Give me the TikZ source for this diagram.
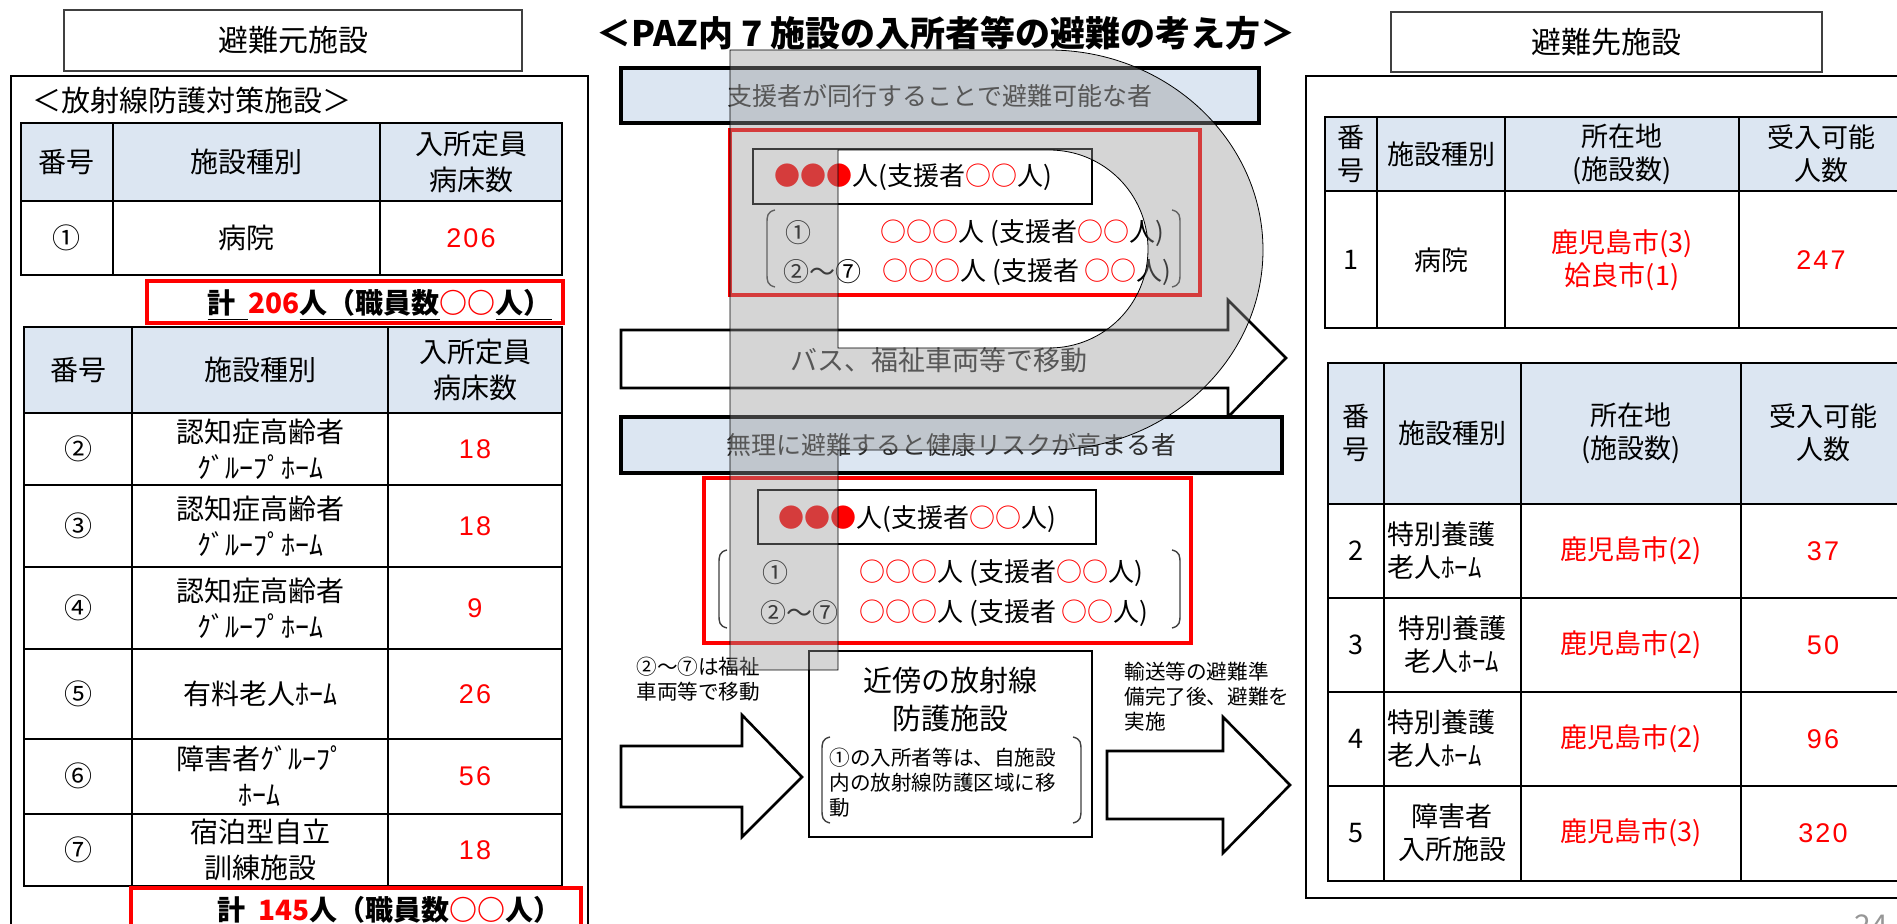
\documentclass[tikz,border=0pt]{standalone}
\usepackage{fontspec}
\setmainfont{Noto Sans CJK JP}
\newfontfamily\numfont{Liberation Sans}[LetterSpace=8]
\definecolor{bandblue}{RGB}{220, 230, 242}
\definecolor{textgray}{RGB}{45, 45, 45}
\definecolor{shadegray}{RGB}{150, 150, 150}
\definecolor{pagegray}{RGB}{150, 150, 150}
\tikzset{
    cell/.style={
        font=\fontsize{14}{18}\selectfont,
        align=center,
        inner sep=0pt
    },
    cell red/.style={
        cell,
        text=red,
        font=\fontsize{13.5}{18}\numfont
    },
    dcell/.style={
        font=\fontsize{13.5}{16.5}\selectfont,
        align=center,
        inner sep=0pt
    }
}

\begin{document}
\begin{tikzpicture}[x=0.5pt, y=-0.5pt]

    \tikzstyle{headbox} = [
        draw=black!75,
        line width=1.2pt,
        font=\fontsize{15}{18}\selectfont
    ]
    \tikzstyle{panel} = [draw=black, line width=0.8pt]
    \tikzstyle{grid thick} = [draw=black, line width=1.2pt]
    \tikzstyle{grid thin} = [draw=black, line width=0.6pt]
    \tikzstyle{bandbox} = [
        fill=bandblue,
        draw=black,
        line width=2pt,
        text=textgray,
        font=\fontsize{12.5}{15}\selectfont
    ]
    \tikzstyle{redframe} = [draw=red, line width=1.8pt]
    \tikzstyle{innerbox} = [draw=black, line width=0.6pt]
    \tikzstyle{blockarrow} = [draw=black, fill=white, line width=1.3pt, line join=miter]
    \tikzstyle{paren} = [draw=black!75, line width=0.7pt]
    \tikzstyle{rowtext} = [anchor=west, inner sep=0pt, font=\fontsize{13}{15}\selectfont]
    \tikzstyle{total} = [anchor=east, inner sep=0pt, font=\fontsize{14}{17}\bfseries\selectfont]
    \tikzstyle{note} = [anchor=north west, align=left, inner sep=0pt, font=\fontsize{10.3}{12.4}\selectfont]
    \tikzstyle{pshade} = [draw=black, line width=0.4pt, fill=shadegray, fill opacity=0.4, even odd rule]

    \useasboundingbox (0,0) rectangle (1897,924);
    \clip (0,0) rectangle (1897,924);
    \fill[white] (0,0) rectangle (1897,924);

    % Titre
    \node[font=\fontsize{17.5}{20}\bfseries\selectfont] (titre) at (946,33) {＜PAZ内 7 施設の入所者等の避難の考え方＞};

    % Côté gauche
    \node[headbox, minimum width=229pt, minimum height=30.5pt] (src) at (293,40.5) {避難元施設};
    \draw[panel] (11,76) rectangle (588,960);
    \node[anchor=west, inner sep=0pt, font=\fontsize{14.5}{17}\selectfont] (srcsub) at (32,100) {＜放射線防護対策施設＞};

    \fill[bandblue] (21,123) rectangle (562,201);
    \draw[grid thin] (113,123) -- (113,275) (380,123) -- (380,275);
    \draw[grid thick] (21,123) rectangle (562,275) (21,201) -- (562,201);
    \node[cell] (a0) at (67,162) {番号};
    \node[cell] (a1) at (246,162) {施設種別};
    \node[cell] (a2) at (471,162) {入所定員\\病床数};
    \node[cell] (a3) at (67,238) {①};
    \node[cell] (a4) at (246,238) {病院};
    \node[cell red] (a5) at (471,238) {206};

    \draw[redframe] (147,281) rectangle (563,323);
    \node[total] (tot1) at (552,305) {\underline{計\ \ }\textcolor{red}{206}\underline{人（職員数}\textcolor{red}{○○}\underline{人）}};

    \fill[bandblue] (24,327) rectangle (562,413);
    \draw[grid thin] (132,327) -- (132,886) (388,327) -- (388,886);
    \draw[grid thick] (24,327) rectangle (562,886);
    \foreach \y in {413,485,567,649,739,814}
        \draw[grid thick] (24,\y) -- (562,\y);
    \node[cell] (b0) at (78,370) {番号};
    \node[cell] (k0) at (260,370) {施設種別};
    \node[cell] (c0) at (475,370) {入所定員\\病床数};
    \foreach \no/\y/\kind/\num [count=\i] in {
        ②/449/{認知症高齢者\\ｸﾞﾙｰﾌﾟﾎｰﾑ}/18,
        ③/526/{認知症高齢者\\ｸﾞﾙｰﾌﾟﾎｰﾑ}/18,
        ④/608/{認知症高齢者\\ｸﾞﾙｰﾌﾟﾎｰﾑ}/9,
        ⑤/694/{有料老人ﾎｰﾑ}/26,
        ⑥/776/{障害者ｸﾞﾙｰﾌﾟ\\ﾎｰﾑ}/56,
        ⑦/850/{宿泊型自立\\訓練施設}/18}
    {
        \node[cell] (b\i) at (78,\y) {\no};
        \node[cell] (k\i) at (260,\y) {\kind};
        \node[cell red] (c\i) at (475,\y) {\num};
    }

    \draw[redframe] (131,888) rectangle (581,960);
    \node[total] (tot2) at (562,912) {\underline{計\ \ }\textcolor{red}{145}\underline{人（職員数}\textcolor{red}{○○}\underline{人）}};

    % Milieu : flèches et bandeaux
    \draw[blockarrow] (621,330) -- (1228,330) -- (1228,300) -- (1286,358) -- (1228,417) -- (1228,388) -- (621,388) -- cycle;
    \node[font=\fontsize{13.5}{16}\selectfont, text=textgray] (bus) at (939,360) {バス、福祉車両等で移動};

    \node[bandbox, minimum width=319pt, minimum height=27.5pt] (band1) at (940,95.5) {支援者が同行することで避難可能な者};
    \node[bandbox, minimum width=330.5pt, minimum height=28pt] (band2) at (951.5,445) {無理に避難すると健康リスクが高まる者};

    \draw[redframe] (730,130) rectangle (1200,295);
    \node[innerbox, minimum width=169.5pt, minimum height=27.5pt] (grp1) at (922.5,176.5) {};
    \node[rowtext] (grp1t) at (774,177) {\textcolor{red}{●●●}人(支援者\textcolor{red}{○○}人)};
    \node[rowtext] (g1r1) at (785,233) {①};
    \node[rowtext] (g1r2) at (880,233) {\textcolor{red}{○○○}人 (支援者\textcolor{red}{○○}人)};
    \node[rowtext] (g1r3) at (783,272) {②〜⑦};
    \node[rowtext] (g1r4) at (882,272) {\textcolor{red}{○○○}人 (支援者 \textcolor{red}{○○}人)};

    \draw[redframe] (704,478) rectangle (1191,643);
    \node[innerbox, minimum width=169pt, minimum height=27pt] (grp2) at (927,517) {};
    \node[rowtext] (grp2t) at (778,519) {\textcolor{red}{●●●}人(支援者\textcolor{red}{○○}人)};
    \node[rowtext] (g2r1) at (762,573) {①};
    \node[rowtext] (g2r2) at (859,573) {\textcolor{red}{○○○}人 (支援者\textcolor{red}{○○}人)};
    \node[rowtext] (g2r3) at (760,613) {②〜⑦};
    \node[rowtext] (g2r4) at (859,613) {\textcolor{red}{○○○}人 (支援者 \textcolor{red}{○○}人)};

    \draw[blockarrow] (621,746) -- (742,746) -- (742,715) -- (802,777) -- (742,837) -- (742,807) -- (621,807) -- cycle;
    \draw[blockarrow] (1107,751) -- (1223,751) -- (1223,717) -- (1290,785) -- (1223,853) -- (1223,819) -- (1107,819) -- cycle;
    \node[note] (noteL) at (636,657) {②〜⑦は福祉\\車両等で移動};
    \node[note] (noteR) at (1124,662) {輸送等の避難準\\備完了後、避難を\\実施};

    \node[draw=black, line width=1.2pt, minimum width=141.5pt, minimum height=93pt] (shelter) at (950.5,744) {};
    \node[cell, font=\fontsize{14.5}{19}\selectfont] (sheltert) at (950,699) {近傍の放射線\\防護施設};
    \node[note] (shelterN) at (829,748) {①の入所者等は、自施設\\内の放射線防護区域に移\\動};

    % Parenthèses
    \foreach \xl/\xr/\yt/\yb in {767/1180/210/287, 719/1180/550/628, 822/1081/737/823}
    {
        \path[paren] (\xl+8,\yt) .. controls (\xl,\yt+2) and (\xl,\yt+6) .. (\xl,\yt+14) -- (\xl,\yb-14) .. controls (\xl,\yb-6) and (\xl,\yb-2) .. (\xl+8,\yb);
        \path[paren] (\xr-8,\yt) .. controls (\xr,\yt+2) and (\xr,\yt+6) .. (\xr,\yt+14) -- (\xr,\yb-14) .. controls (\xr,\yb-6) and (\xr,\yb-2) .. (\xr-8,\yb);
    }

    % Côté droit
    \node[headbox, minimum width=215.5pt, minimum height=30pt] (dst) at (1606.5,42) {避難先施設};
    \draw[panel] (1306,76) rectangle (1920,898);

    \fill[bandblue] (1325,117) rectangle (1905,191);
    \draw[grid thin] (1377,117) -- (1377,328) (1505,117) -- (1505,328) (1739,117) -- (1739,328);
    \draw[grid thick] (1325,117) rectangle (1905,328) (1325,191) -- (1905,191);
    \node[dcell] (d0) at (1351,154) {番\\号};
    \node[dcell] (d1) at (1441,154) {施設種別};
    \node[dcell] (d2) at (1622,154) {所在地\\(施設数)};
    \node[dcell] (d3) at (1821,154) {受入可能\\人数};
    \node[dcell] (d4) at (1351,260) {1};
    \node[dcell] (d5) at (1441,260) {病院};
    \node[dcell, text=red] (d6) at (1622,260) {鹿児島市(3)\\姶良市(1)};
    \node[cell red] (d7) at (1821,260) {247};

    \fill[bandblue] (1328,363) rectangle (1905,504);
    \draw[grid thin] (1384,363) -- (1384,881) (1521,363) -- (1521,881) (1741,363) -- (1741,881);
    \draw[grid thick] (1328,363) rectangle (1905,881);
    \foreach \y in {504,598,692,786}
        \draw[grid thick] (1328,\y) -- (1905,\y);
    \node[dcell] (e0) at (1356,433) {番\\号};
    \node[dcell] (f0) at (1452,433) {施設種別};
    \node[dcell] (g0) at (1631,433) {所在地\\(施設数)};
    \node[dcell] (h0) at (1823,433) {受入可能\\人数};
    \node[dcell] (e1) at (1356,551) {2};
    \node[dcell, align=left, anchor=west] (f1) at (1387,551) {特別養護\\老人ﾎｰﾑ};
    \node[dcell, text=red] (g1) at (1631,551) {鹿児島市(2)};
    \node[cell red] (h1) at (1823,551) {37};
    \node[dcell] (e2) at (1356,645) {3};
    \node[dcell] (f2) at (1452,645) {特別養護\\老人ﾎｰﾑ};
    \node[dcell, text=red] (g2) at (1631,645) {鹿児島市(2)};
    \node[cell red] (h2) at (1823,645) {50};
    \node[dcell] (e3) at (1356,739) {4};
    \node[dcell, align=left, anchor=west] (f3) at (1387,739) {特別養護\\老人ﾎｰﾑ};
    \node[dcell, text=red] (g3) at (1631,739) {鹿児島市(2)};
    \node[cell red] (h3) at (1823,739) {96};
    \node[dcell] (e4) at (1356,833) {5};
    \node[dcell] (f4) at (1452,833) {障害者\\入所施設};
    \node[dcell, text=red] (g4) at (1631,833) {鹿児島市(3)};
    \node[cell red] (h4) at (1823,833) {320};

    % Forme grise en P (par-dessus)
    \path[pshade] (730,50) -- (1049,50) .. controls (1167,50) and (1263,140) .. (1263,250)
        .. controls (1263,360) and (1167,450) .. (1049,450) -- (838,450) -- (838,670) -- (730,670) -- cycle
        (838,150) -- (1049,150) .. controls (1104,150) and (1148,194) .. (1148,249)
        .. controls (1148,304) and (1104,348) .. (1049,348) -- (838,348) -- cycle;

    \node[font=\fontsize{15}{18}\selectfont, text=pagegray] (page) at (1871,926) {24};

\end{tikzpicture}
\end{document}
